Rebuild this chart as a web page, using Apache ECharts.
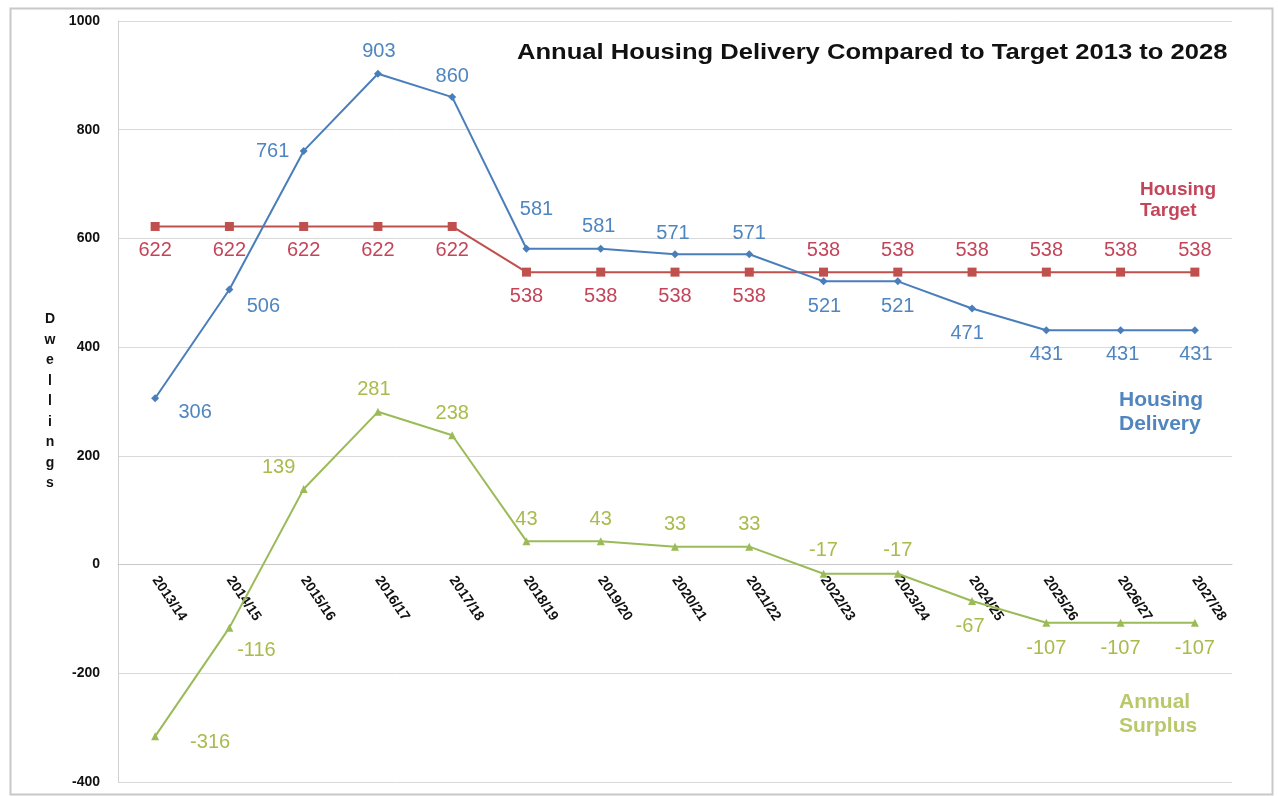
<!DOCTYPE html>
<html>
<head>
<meta charset="utf-8">
<script src="https://cdn.jsdelivr.net/npm/echarts@6/dist/echarts.min.js"></script>
<style>
  html, body { margin: 0; padding: 0; background: #ffffff; }
  #chart { width: 1278px; height: 796px; }
</style>
</head>
<body>
<div id="chart"></div>
<script>
// Financial years on the category axis
const years = ['2013/14', '2014/15', '2015/16', '2016/17', '2017/18', '2018/19', '2019/20',
  '2020/21', '2021/22', '2022/23', '2023/24', '2024/25', '2025/26', '2026/27', '2027/28'];

// Dwellings completed (actual and projected)
const delivery = [306, 506, 761, 903, 860, 581, 581, 571, 571, 521, 521, 471, 431, 431, 431];

// Annual housing requirement
const target = [622, 622, 622, 622, 622, 538, 538, 538, 538, 538, 538, 538, 538, 538, 538];

// Delivery minus target for each year
const surplus = [-316, -116, 139, 281, 238, 43, 43, 33, 33, -17, -17, -67, -107, -107, -107];

// Y axis ticks
const yMin = -400, yMax = 1000, yStep = 200;

// Pixel offsets of each value label from its point, so labels avoid the lines
const deliveryLabelOffset = [[40, 14], [34, 17], [-31, 1], [1, -22], [0, -21], [10, -39], [-2, -22],
  [-2, -21], [0, -21], [1, 25], [0, 25], [-5, 25], [0, 24], [2, 24], [1, 24]];
const targetLabelOffset = [[0, 24], [0, 24], [0, 24], [0, 24], [0, 24], [0, 24], [0, 24], [0, 24],
  [0, 24], [0, -22], [0, -22], [0, -22], [0, -22], [0, -22], [0, -22]];
const surplusLabelOffset = [[55, 6], [27, 23], [-25, -22], [-4, -22], [0, -22], [0, -22], [0, -22],
  [0, -22], [0, -22], [0, -23], [0, -23], [-2, 25], [0, 26], [0, 26], [0, 26]];

const BLUE = '#4a7ebb', RED = '#c0504d', GREEN = '#9bbb59';
const BLUE_TXT = '#4f86c0', RED_TXT = '#c4455a', GREEN_TXT = '#a9bb4c';
const FONT = '"Liberation Sans", Arial, sans-serif';

function withLabels(values, offsets) {
  return values.map((v, i) => ({
    value: v,
    label: { offset: offsets[i] }
  }));
}

function labelStyle(color) {
  return {
    show: true,
    position: 'inside',
    color: color,
    fontFamily: FONT,
    fontSize: 20
  };
}

const GRID = { left: 118, right: 46, top: 21, bottom: 14 };

const chart = echarts.init(document.getElementById('chart'), null, { renderer: 'canvas' });

chart.setOption({
  backgroundColor: '#ffffff',
  animation: false,
  grid: Object.assign({ containLabel: false, outerBoundsMode: 'none' }, GRID),
  xAxis: {
    type: 'category',
    data: years,
    boundaryGap: true,
    axisLine: { onZero: false, lineStyle: { color: '#c8c8c8', width: 1 } },
    axisTick: { show: false },
    axisLabel: {
      interval: 0,
      rotate: -56,
      margin: 13,
      color: '#111111',
      fontFamily: FONT,
      fontWeight: 'bold',
      fontSize: 14
    },
    splitLine: { show: false }
  },
  yAxis: {
    type: 'value',
    min: yMin,
    max: yMax,
    interval: yStep,
    name: 'D\nw\ne\nl\nl\ni\nn\ng\ns',
    nameLocation: 'middle',
    nameRotate: 0,
    nameGap: 68,
    nameTextStyle: {
      color: '#111111',
      fontFamily: FONT,
      fontWeight: 'bold',
      fontSize: 14,
      lineHeight: 20.5,
      align: 'center',
      padding: [10, 0, 0, 0]
    },
    axisLine: { show: true, lineStyle: { color: '#d0d0d0' } },
    axisTick: { show: false },
    axisLabel: {
      margin: 18,
      color: '#111111',
      fontFamily: FONT,
      fontWeight: 'bold',
      fontSize: 14,
      formatter: v => String(v)
    },
    splitLine: { lineStyle: { color: '#d9d9d9', width: 1 } }
  },
  series: [
    {
      name: 'Housing Target',
      type: 'line',
      data: withLabels(target, targetLabelOffset),
      symbol: 'rect',
      symbolSize: 9,
      lineStyle: { color: RED, width: 2 },
      itemStyle: { color: RED },
      label: labelStyle(RED_TXT),
      z: 2
    },
    {
      name: 'Housing Delivery',
      type: 'line',
      data: withLabels(delivery, deliveryLabelOffset),
      symbol: 'diamond',
      symbolSize: 8,
      lineStyle: { color: BLUE, width: 2 },
      itemStyle: { color: BLUE },
      label: labelStyle(BLUE_TXT),
      z: 3
    },
    {
      name: 'Annual Surplus',
      type: 'line',
      data: withLabels(surplus, surplusLabelOffset),
      symbol: 'triangle',
      symbolSize: 8,
      lineStyle: { color: GREEN, width: 2 },
      itemStyle: { color: GREEN },
      label: labelStyle(GREEN_TXT),
      z: 3
    }
  ],
  graphic: [
    {
      type: 'rect',
      left: 8, top: 6,
      shape: { width: 1262, height: 786 },
      style: { fill: 'none', stroke: '#c8c8c8', lineWidth: 2 },
      silent: true,
      z: -1
    },
    {
      // chart title, slightly widened
      type: 'text',
      x: 517, y: 42,
      scaleX: 1.163,
      style: {
        text: 'Annual Housing Delivery Compared to Target 2013 to 2028',
        fill: '#111111',
        font: 'bold 22px ' + FONT
      }
    },
    {
      type: 'text',
      left: 1140, top: 179,
      style: {
        text: 'Housing\nTarget',
        fill: RED_TXT,
        font: 'bold 19px ' + FONT,
        lineHeight: 21,
        align: 'center'
      }
    },
    {
      type: 'text',
      left: 1119, top: 388,
      style: {
        text: 'Housing\nDelivery',
        fill: BLUE_TXT,
        font: 'bold 21px ' + FONT,
        lineHeight: 24,
        align: 'center'
      }
    },
    {
      type: 'text',
      left: 1119, top: 690,
      style: {
        text: 'Annual\nSurplus',
        fill: '#b9c86a',
        font: 'bold 21px ' + FONT,
        lineHeight: 24,
        align: 'center',
        shadowColor: 'rgba(200,215,120,0.8)',
        shadowBlur: 4
      }
    }
  ]
});

// Put the category axis on the zero line of the value axis
const zeroY = chart.convertToPixel({ yAxisIndex: 0 }, 0);
const gridBottomY = 796 - GRID.bottom;
chart.setOption({ xAxis: { offset: -(gridBottomY - zeroY) } });
</script>
</body>
</html>
